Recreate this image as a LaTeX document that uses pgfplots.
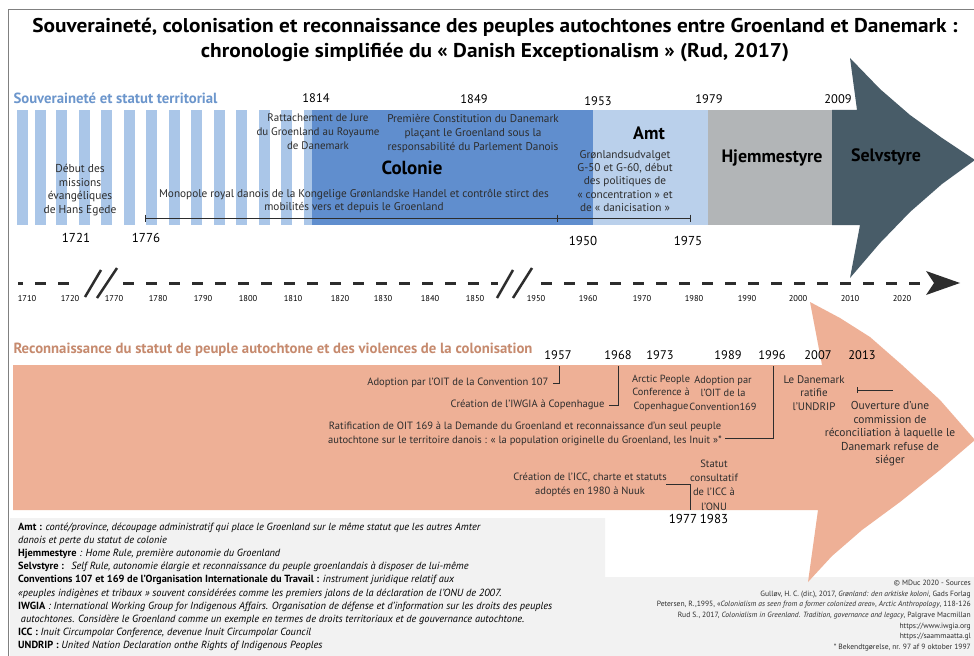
\documentclass[border=0pt]{standalone}
\usepackage{pgfplots}
\pgfplotsset{compat=1.18}
\usepackage{fontspec}
\setmainfont{PT Sans}
\definecolor{stripe}{RGB}{170,198,232}
\definecolor{colonie}{RGB}{96,142,206}
\definecolor{amt}{RGB}{186,208,235}
\definecolor{hjem}{RGB}{178,181,183}
\definecolor{selv}{RGB}{72,92,104}
\definecolor{salmon}{RGB}{238,176,150}
\definecolor{bluetitle}{RGB}{108,150,204}
\definecolor{salmontitle}{RGB}{198,138,110}
\definecolor{legbg}{RGB}{242,242,242}
\definecolor{txt}{RGB}{45,45,45}
\definecolor{tl}{RGB}{45,45,45}
\newcommand{\fs}[2]{\fontsize{#1}{#2}\selectfont}
\begin{document}
\begin{tikzpicture}
\begin{axis}[scale only axis, width=974bp, height=656bp,
  xmin=0, xmax=974, ymin=0, ymax=656, y dir=reverse,
  hide axis, clip=false]
\coordinate (SW) at (axis cs:0,656);
\coordinate (NE) at (axis cs:974,0);
% background
\addplot[fill=white, draw=none] coordinates {(0,0)(974,0)(974,656)(0,656)} --cycle;
% frame
\addplot[gray, line width=0.8bp] coordinates {(974,9)(8,9)(8,656)};
% legend background
\addplot[fill=legbg, draw=none] coordinates {(10,518)(605,518)(605,577)(974,577)(974,656)(10,656)} --cycle;
% stripes
\addplot[fill=stripe, draw=none] coordinates {(17,110)(28,110)(28,225)(17,225)} --cycle;
\addplot[fill=stripe, draw=none] coordinates {(35,110)(46,110)(46,225)(35,225)} --cycle;
\addplot[fill=stripe, draw=none] coordinates {(56,110)(67,110)(67,225)(56,225)} --cycle;
\addplot[fill=stripe, draw=none] coordinates {(78.5,110)(89.5,110)(89.5,225)(78.5,225)} --cycle;
\addplot[fill=stripe, draw=none] coordinates {(101,110)(112,110)(112,225)(101,225)} --cycle;
\addplot[fill=stripe, draw=none] coordinates {(123.5,110)(134.5,110)(134.5,225)(123.5,225)} --cycle;
\addplot[fill=stripe, draw=none] coordinates {(146,110)(157,110)(157,225)(146,225)} --cycle;
\addplot[fill=stripe, draw=none] coordinates {(168.5,110)(179.5,110)(179.5,225)(168.5,225)} --cycle;
\addplot[fill=stripe, draw=none] coordinates {(191,110)(202,110)(202,225)(191,225)} --cycle;
\addplot[fill=stripe, draw=none] coordinates {(213.5,110)(224.5,110)(224.5,225)(213.5,225)} --cycle;
\addplot[fill=stripe, draw=none] coordinates {(236,110)(247,110)(247,225)(236,225)} --cycle;
\addplot[fill=stripe, draw=none] coordinates {(258.5,110)(269.5,110)(269.5,225)(258.5,225)} --cycle;
\addplot[fill=stripe, draw=none] coordinates {(281,110)(292,110)(292,225)(281,225)} --cycle;
\addplot[fill=stripe, draw=none] coordinates {(303.5,110)(314,110)(314,225)(303.5,225)} --cycle;
% periods
\addplot[fill=colonie, draw=none] coordinates {(312,110)(593,110)(593,225)(312,225)} --cycle;
\addplot[fill=amt, draw=none] coordinates {(593,110)(708,110)(708,225)(593,225)} --cycle;
\addplot[fill=hjem, draw=none] coordinates {(708,110)(832,110)(832,225)(708,225)} --cycle;
\addplot[fill=selv, draw=none] coordinates {(832,110)(857,110)(850,58)(880,89)(910,115)(942,138)(975,160)(942,184)(910,212)(880,243)(850,278)(860,225)(832,225)} --cycle;
% salmon arrow
\addplot[fill=salmon, draw=none] coordinates {(13,365)(822,365)(810,302)(840,318)(870,337)(902,365)(940,400)(975,440)(940,470)(900,502)(862,530)(832,556)(808,582)(818,510)(13,510)} --cycle;
% timeline
\addplot[tl, line width=3bp, dash pattern=on 11bp off 12bp, dash phase=6bp] coordinates {(18,283)(80,283)};
\addplot[tl, line width=3bp, dash pattern=on 11bp off 12bp] coordinates {(123,283)(498,283)};
\addplot[tl, line width=3bp, dash pattern=on 11bp off 12bp] coordinates {(541,283)(930,283)};
\addplot[fill=tl, draw=none] coordinates {(926,271)(960,283)(926,295)(934,283)} --cycle;
\addplot[tl, line width=2.5bp] coordinates {(85,297)(101,270)};
\addplot[tl, line width=2.5bp] coordinates {(97,298)(117,268)};
\addplot[tl, line width=2.5bp] coordinates {(497,298)(513,270)};
\addplot[tl, line width=2.5bp] coordinates {(513,298)(532,268)};
% monopole line
\addplot[txt, line width=0.7bp] coordinates {(145,218)(690,218)};
\addplot[txt, line width=0.9bp] coordinates {(145,214.5)(145,221.5)};
\addplot[txt, line width=0.9bp] coordinates {(557,214.5)(557,221.5)};
\addplot[txt, line width=0.9bp] coordinates {(690,214.5)(690,221.5)};
% connectors bottom
\addplot[txt, line width=0.6bp] coordinates {(553,383)(559,383)(559,366)};
\addplot[txt, line width=0.6bp] coordinates {(609,405)(618,405)(618,366)};
\addplot[txt, line width=0.6bp] coordinates {(725,438)(773,438)(773,366)};
\addplot[txt, line width=0.6bp] coordinates {(666,484)(690,484)(690,510)};
\addplot[txt, line width=0.6bp] coordinates {(857,390)(893,390)};
\addplot[txt, line width=0.6bp] coordinates {(857,387)(857,393)};

% ---------- texts ----------
\node[font=\bfseries\fs{20}{25}, align=center, text=black] at (axis cs:495,40)
 {\scalebox{1.07}[1]{Souveraineté, colonisation et reconnaissance des peuples autochtones entre Groenland et Danemark :}\\\scalebox{1.07}[1]{chronologie simplifiée du « Danish Exceptionalism » (Rud, 2017)}};
\node[font=\bfseries\fs{14.8}{15}, text=bluetitle, anchor=west] at (axis cs:10,98) {Souveraineté et statut territorial};
\node[font=\fs{12.5}{13}] at (axis cs:316,98) {1814};
\node[font=\fs{12.5}{13}] at (axis cs:474,99) {1849};
\node[font=\fs{12.5}{13}] at (axis cs:598,101) {1953};
\node[font=\fs{12.5}{13}] at (axis cs:709,99) {1979};
\node[font=\fs{12.5}{13}] at (axis cs:838,99) {2009};
\node[font=\fs{13}{13}] at (axis cs:76,238) {1721};
\node[font=\fs{13}{13}] at (axis cs:146,238) {1776};
\node[font=\fs{13}{13}] at (axis cs:583,241) {1950};
\node[font=\fs{13}{13}] at (axis cs:688,241) {1975};
\node[font=\fs{11}{14}, align=center, text=txt] at (axis cs:318,132) {Rattachement de Jure\\du Groenland au Royaume\\de Danemark};
\node[font=\fs{11.3}{14}, align=center, text=txt] at (axis cs:473,134) {Première Constitution du Danemark\\plaçant  le Groenland sous la\\responsabilité du Parlement Danois};
\node[font=\bfseries\fs{19}{19}] at (axis cs:412,168) {Colonie};
\node[font=\bfseries\fs{18}{18}] at (axis cs:649,133) {Amt};
\node[font=\fs{11.3}{13.3}, align=center, text=txt] at (axis cs:625,181) {Grønlandsudvalget\\G-50 et G-60, début\\des  politiques de\\« concentration » et\\de « danicisation »};
\node[font=\bfseries\fs{18}{18}] at (axis cs:772,158) {Hjemmestyre};
\node[font=\bfseries\fs{18}{18}] at (axis cs:886,157) {Selvstyre};
\node[font=\fs{11.5}{13.7}, align=center, text=txt] at (axis cs:80,190) {Début des\\missions\\évangéliques\\de Hans Egede};
\node[font=\fs{11.3}{14}, align=center, text=txt] at (axis cs:354,201) {Monopole royal danois de la  Kongelige Grønlandske Handel et contrôle stirct des\\mobilités vers et depuis le Groenland};
% timeline ticks
\node[font=\fs{8.5}{9}] at (axis cs:27,299) {1710};
\node[font=\fs{8.5}{9}] at (axis cs:70,299) {1720};
\node[font=\fs{8.5}{9}] at (axis cs:114,299) {1770};
\node[font=\fs{8.5}{9}] at (axis cs:158,299) {1780};
\node[font=\fs{8.5}{9}] at (axis cs:203,299) {1790};
\node[font=\fs{8.5}{9}] at (axis cs:248,299) {1800};
\node[font=\fs{8.5}{9}] at (axis cs:293,299) {1810};
\node[font=\fs{8.5}{9}] at (axis cs:340,299) {1820};
\node[font=\fs{8.5}{9}] at (axis cs:383,299) {1830};
\node[font=\fs{8.5}{9}] at (axis cs:430,299) {1840};
\node[font=\fs{8.5}{9}] at (axis cs:475,299) {1850};
\node[font=\fs{8.5}{9}] at (axis cs:536,299) {1950};
\node[font=\fs{8.5}{9}] at (axis cs:588,299) {1960};
\node[font=\fs{8.5}{9}] at (axis cs:642,299) {1970};
\node[font=\fs{8.5}{9}] at (axis cs:694,299) {1980};
\node[font=\fs{8.5}{9}] at (axis cs:747,299) {1990};
\node[font=\fs{8.5}{9}] at (axis cs:798,299) {2000};
\node[font=\fs{8.5}{9}] at (axis cs:850,299) {2010};
\node[font=\fs{8.5}{9}] at (axis cs:902,299) {2020};
% bottom section
\node[font=\bfseries\fs{14.8}{15}, text=salmontitle, anchor=west] at (axis cs:10,350) {Reconnaissance du statut de peuple autochtone et des violences de la colonisation};
\node[font=\fs{12.5}{13}] at (axis cs:558,355) {1957};
\node[font=\fs{12.5}{13}] at (axis cs:618,355) {1968};
\node[font=\fs{12.5}{13}] at (axis cs:660,355) {1973};
\node[font=\fs{12.5}{13}] at (axis cs:728,355) {1989};
\node[font=\fs{12.5}{13}] at (axis cs:772,355) {1996};
\node[font=\fs{12.5}{13}] at (axis cs:818,355) {2007};
\node[font=\fs{12.5}{13}] at (axis cs:862,355) {2013};
\node[font=\fs{10.6}{13.5}, text=txt, anchor=east] at (axis cs:552,383) {Adoption par l'OIT de la Convention 107};
\node[font=\fs{10.6}{13.5}, text=txt, anchor=east] at (axis cs:608,405) {Création de l'IWGIA à Copenhague};
\node[font=\fs{10.4}{13.5}, align=center, text=txt] at (axis cs:661,393) {Arctic People\\Conference à\\Copenhague};
\node[font=\fs{10.4}{13.5}, align=center, text=txt] at (axis cs:723,393) {Adoption par\\l'OIT de la\\Convention169};
\node[font=\fs{11}{13.5}, align=center, text=txt] at (axis cs:814,393) {Le Danemark\\ratifie\\l'UNDRIP};
\node[font=\fs{11.5}{13.5}, align=center, text=txt] at (axis cs:890,434) {Ouverture d'une\\commission de\\réconciliation à laquelle le\\Danemark refuse de\\siéger};
\node[font=\fs{10.6}{14}, align=center, text=txt] at (axis cs:525,434) {Ratification de OIT 169 à la Demande du  Groenland et reconnaissance d'un seul peuple\\autochtone sur le territoire danois :  « la population originelle du Groenland, les Inuit »*};
\node[font=\fs{10.6}{14}, align=center, text=txt] at (axis cs:590,485) {Création de l'ICC, charte et statuts\\adoptés en 1980 à Nuuk};
\node[font=\fs{10.6}{14.3}, align=center, text=txt] at (axis cs:714,485) {Statut\\consultatif\\de l'ICC à\\l'ONU};
\node[font=\fs{13}{13}] at (axis cs:683,519) {1977};
\node[font=\fs{13}{13}] at (axis cs:714,519) {1983};
% legend text
\node[font=\fs{10.4}{13.1}, align=left, anchor=north west, text=black, inner sep=0pt] at (axis cs:18,523) {%
\textbf{Amt :} \textit{conté/province, découpage administratif qui place le Groenland sur le même statut que les autres Amter}\\
\textit{danois et perte du statut de colonie}\\
\textbf{Hjemmestyre} \textit{: Home Rule, première autonomie du Groenland}\\
\textbf{Selvstyre :} \textit{ Self Rule, autonomie élargie et reconnaissance du peuple groenlandais à disposer de lui-même}\\
\textbf{Conventions 107 et 169 de l'Organisation Internationale du Travail :} \textit{instrument juridique relatif aux}\\
\textit{«peuples indigènes et tribaux » souvent considérées comme les premiers jalons de la déclaration de l'ONU de 2007.}\\
\textbf{IWGIA} \textit{: International Working Group for Indigenous Affairs. Organisation de défense et d'information sur les droits des peuples}\\
\textit{\ autochtones. Considère le Groenland comme un exemple en termes de droits territoriaux et de gouvernance autochtone.}\\
\textbf{ICC :} \textit{Inuit Circumpolar Conference, devenue Inuit Circumpolar Council}\\
\textbf{UNDRIP :} \textit{United Nation Declaration onthe Rights of Indigenous Peoples}};
% sources
\node[font=\fs{7.6}{10.7}, align=right, anchor=north east, text=txt, inner sep=0pt] at (axis cs:971,580) {%
© MDuc 2020 - Sources\\
Gulløv, H. C. (dir.), 2017, \textit{Grønland: den arktiske koloni}, Gads Forlag\\
Petersen, R.,1995, «\textit{Colonialism as seen from a former colonized area}», \textit{Arctic Anthropology}, 118-126\\
Rud S., 2017, \textit{Colonialism in Greenland. Tradition, governance and legacy}, Palgrave Macmillan\\
https://www.iwgia.org\\
https://saammaatta.gl\\
* Bekendtgørelse, nr. 97 af 9 oktober 1997};
\end{axis}
\pgfresetboundingbox
\useasboundingbox (SW) rectangle (NE);
\end{tikzpicture}
\end{document}
